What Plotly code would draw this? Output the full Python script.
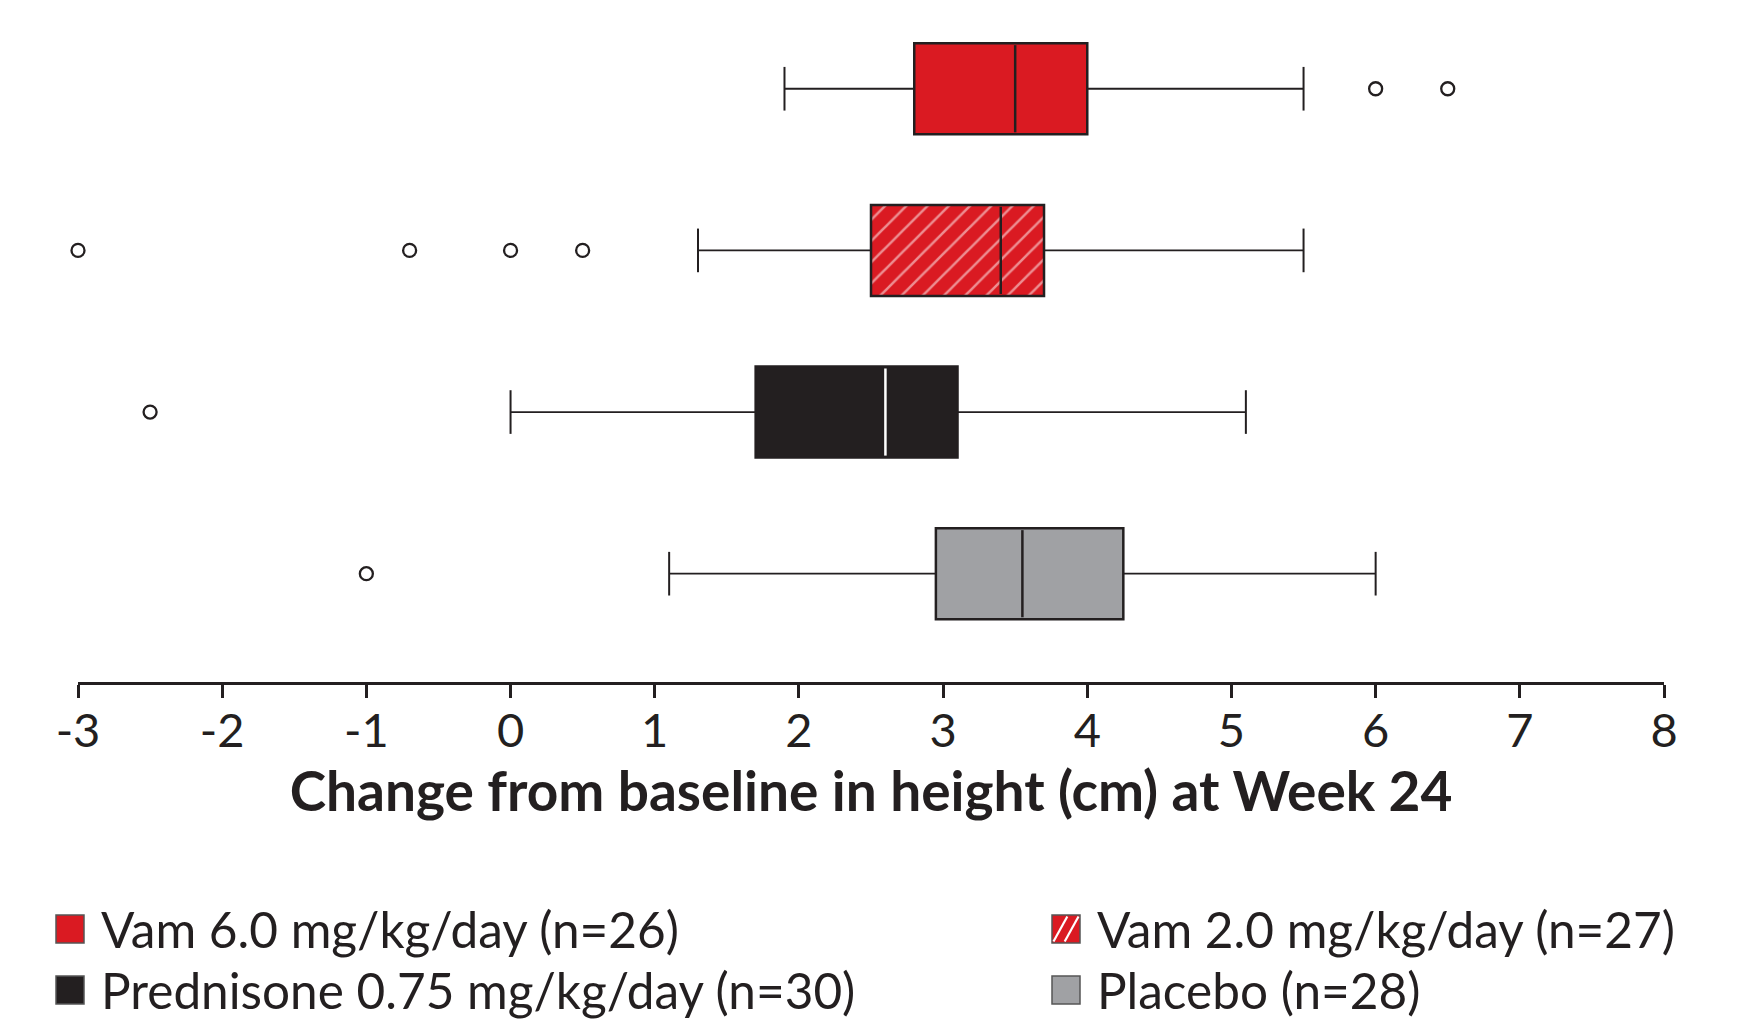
import plotly.graph_objects as go

# ---- data ----
groups = ["Vam 6.0 mg/kg/day (n=26)", "Vam 2.0 mg/kg/day (n=27)",
          "Prednisone 0.75 mg/kg/day (n=30)", "Placebo (n=28)"]
q1 = [2.8, 2.5, 1.7, 2.95]
median = [3.5, 3.4, 2.6, 3.55]
q3 = [4.0, 3.7, 3.1, 4.25]
lower_fence = [1.9, 1.3, 0.0, 1.1]
upper_fence = [5.5, 5.5, 5.1, 6.0]
outliers = [[6.0, 6.5], [-3.0, -0.7, 0.0, 0.5], [-2.5], [-1.0]]
x_ticks = [-3, -2, -1, 0, 1, 2, 3, 4, 5, 6, 7, 8]

# ---- styles ----
fill_colors = ["#DA1A22", "#DA1A22", "#231F20", "#A0A1A4"]
hatched = [False, True, False, False]
median_colors = ["#231F20", "#231F20", "#FFFFFF", "#231F20"]
ink = "#231F20"
FONT = "Lato"
OFF = 8  # page body margin offset
W, H = 1743 - OFF, 1022 - OFF
ML, MR, MT, MB = 78 - OFF, 79, 16 - OFF, 340
box_w = 0.563
cap_half = 0.135

fig = go.Figure()
for i, g in enumerate(groups):
    pat = dict(shape="/", fgcolor="white", bgcolor=fill_colors[i], size=15,
               solidity=0.17) if hatched[i] else dict(shape="")
    fig.add_trace(go.Bar(
        orientation="h", y=[i], x=[q3[i] - q1[i]], base=[q1[i]], width=box_w,
        marker=dict(color=fill_colors[i], line=dict(color=ink, width=2.5), pattern=pat),
        name=g, showlegend=False, hoverinfo="skip"))
    # whiskers
    fig.add_trace(go.Scatter(
        x=[lower_fence[i], q1[i], None, q3[i], upper_fence[i]],
        y=[i, i, None, i, i], mode="lines", cliponaxis=False,
        line=dict(color=ink, width=1.8), showlegend=False, hoverinfo="skip"))
    # caps
    fig.add_trace(go.Scatter(
        x=[lower_fence[i], lower_fence[i], None, upper_fence[i], upper_fence[i]],
        y=[i - cap_half, i + cap_half, None, i - cap_half, i + cap_half], mode="lines",
        cliponaxis=False, line=dict(color=ink, width=2), showlegend=False, hoverinfo="skip"))
    # median
    fig.add_trace(go.Scatter(
        x=[median[i], median[i]], y=[i - box_w / 2 + 0.012, i + box_w / 2 - 0.012],
        mode="lines", line=dict(color=median_colors[i], width=2.5),
        showlegend=False, hoverinfo="skip"))
    # outliers
    fig.add_trace(go.Scatter(
        x=outliers[i], y=[i] * len(outliers[i]), mode="markers", cliponaxis=False,
        marker=dict(symbol="circle", size=13, color="white",
                    line=dict(color=ink, width=2.3)),
        showlegend=False, hoverinfo="skip"))

# ---- custom legend (paper coords computed from page pixels) ----
pw = W - ML - MR
ph = H - MT - MB


def px(xp):
    return (xp - OFF - ML) / pw


def py(yp):
    return (H - MB - (yp - OFF)) / ph


legend_pos = [(56, 929), (1052, 929), (56, 990), (1052, 990)]
sq = 28
shapes = []
annotations = []
for i, g in enumerate(groups):
    x0, yc = legend_pos[i]
    shapes.append(dict(type="rect", xref="paper", yref="paper",
                       x0=px(x0), x1=px(x0 + sq), y0=py(yc + sq / 2), y1=py(yc - sq / 2),
                       fillcolor=fill_colors[i], line=dict(color="#555555", width=1.5)))
    if hatched[i]:
        for a, b in [(0.0, 0.6), (0.4, 1.0)]:
            shapes.append(dict(type="line", xref="paper", yref="paper",
                               x0=px(x0 + sq * a + 1.5), y0=py(yc + sq / 2 - 1.5),
                               x1=px(x0 + sq * b - 1.5), y1=py(yc - sq / 2 + 1.5),
                               line=dict(color="white", width=2.2)))
    annotations.append(dict(text=g, xref="paper", yref="paper", x=px(x0 + 43), y=py(yc),
                            xanchor="left", yanchor="middle", showarrow=False,
                            font=dict(family=FONT, size=49.5, color=ink)))

fig.update_layout(
    width=W, height=H, margin=dict(l=ML, r=MR, t=MT, b=MB, autoexpand=False),
    paper_bgcolor="white", plot_bgcolor="white", barmode="overlay",
    showlegend=False, shapes=shapes, annotations=annotations,
    xaxis=dict(range=[-3, 8], tickvals=x_ticks, ticktext=[str(t) for t in x_ticks],
               automargin=False, ticklabelstandoff=-7,
               showgrid=False, zeroline=False, showline=True, linecolor=ink, linewidth=3,
               ticks="outside", ticklen=13, tickwidth=2.5, tickcolor=ink,
               tickfont=dict(family=FONT, size=47, color=ink),
               title=dict(text="<b>Change from baseline in height (cm) at Week 24</b>",
                          font=dict(family=FONT, size=55, color=ink), standoff=6)),
    yaxis=dict(range=[3.67, -0.45], showticklabels=False, showgrid=False, automargin=False,
               zeroline=False, showline=False, ticks=""),
)

fig.write_html("out.html")
